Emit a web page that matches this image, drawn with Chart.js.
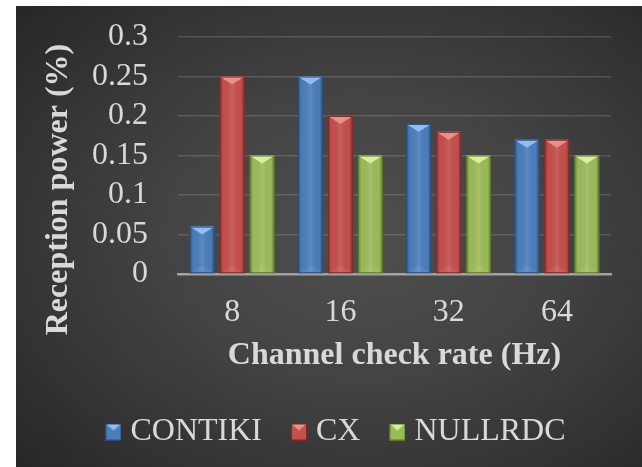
<!DOCTYPE html>
<html>
<head>
<meta charset="utf-8">
<script src="https://cdn.jsdelivr.net/npm/chart.js@4.4.0/dist/chart.umd.min.js"></script>
<style>
  html, body { margin: 0; padding: 0; background: #fff; overflow: hidden; }
  #panel {
    position: absolute; left: 16px; top: 6px; width: 626px; height: 461px;
    background: radial-gradient(ellipse 75% 75% at 55% 50%, #4e4e4e 0%, #444 40%, #333 75%, #262626 100%);
  }
</style>
</head>
<body>
<div id="panel"><canvas id="grafico" width="626" height="461"></canvas></div>
<script>
const categorias = ['8', '16', '32', '64'];
const contiki = [0.06, 0.25, 0.19, 0.17];
const cx = [0.25, 0.20, 0.18, 0.17];
const nullrdc = [0.15, 0.15, 0.15, 0.15];
const yTicks = ['0', '0.05', '0.1', '0.15', '0.2', '0.25', '0.3'];
const tituloX = 'Channel check rate (Hz)';
const tituloY = 'Reception power (%)';

const colorTexto = '#d9d9d9';
const fuente = '"Liberation Serif", "Times New Roman", serif';

// cuadrito de la leyenda con el mismo bisel que las barras
function muestra(base, luz, sombra) {
    const c = document.createElement('canvas');
    c.width = 16; c.height = 17;
    const g = c.getContext('2d');
    g.fillStyle = base; g.fillRect(0, 0, 16, 17);
    g.fillStyle = luz;
    g.beginPath(); g.moveTo(0, 0); g.lineTo(16, 0); g.lineTo(8, 7); g.closePath(); g.fill();
    g.strokeStyle = sombra; g.lineWidth = 1; g.strokeRect(0.5, 0.5, 15, 16);
    return c;
}

// bisel tipo Excel encima de cada barra
const bisel = {
    id: 'bisel',
    afterDatasetsDraw(chart) {
        const ctx = chart.ctx;
        chart.data.datasets.forEach((ds, i) => {
            chart.getDatasetMeta(i).data.forEach(bar => {
                const { x, y, width, base } = bar.getProps(['x', 'y', 'width', 'base'], true);
                const l = x - width / 2, r = x + width / 2, h = base - y;
                const g = ctx.createLinearGradient(l, 0, r, 0);
                g.addColorStop(0, 'rgba(0,0,0,0.30)');
                g.addColorStop(0.15, 'rgba(0,0,0,0)');
                g.addColorStop(0.5, 'rgba(255,255,255,0.10)');
                g.addColorStop(0.85, 'rgba(0,0,0,0)');
                g.addColorStop(1, 'rgba(0,0,0,0.32)');
                ctx.save();
                ctx.fillStyle = g;
                ctx.fillRect(l, y, width, h);
                const d = Math.min(width * 0.32, h / 2);
                ctx.beginPath(); ctx.moveTo(l, y); ctx.lineTo(r, y); ctx.lineTo(x, y + d); ctx.closePath();
                ctx.fillStyle = ds.luz; ctx.fill();
                ctx.beginPath(); ctx.moveTo(l, base); ctx.lineTo(r, base); ctx.lineTo(x, base - d); ctx.closePath();
                ctx.fillStyle = 'rgba(255,255,255,0.07)'; ctx.fill();
                ctx.strokeStyle = ds.sombra; ctx.lineWidth = 1;
                ctx.strokeRect(l + 0.5, y + 0.5, width - 1, h - 1);
                ctx.restore();
            });
        });
    }
};

// titulo del eje Y (en el original no esta centrado con el eje)
const ejeY = {
    id: 'ejeY',
    afterDraw(chart) {
        const ctx = chart.ctx, a = chart.chartArea;
        ctx.save();
        ctx.translate(a.left - 119, (a.top + a.bottom) / 2 + 34);
        ctx.rotate(-Math.PI / 2);
        ctx.font = 'bold 32px ' + fuente;
        ctx.fillStyle = colorTexto;
        ctx.textAlign = 'center';
        ctx.textBaseline = 'middle';
        ctx.fillText(tituloY, 0, 0);
        ctx.restore();
    }
};

function mostrarGrafico(id) {
    const ctx = document.getElementById(id);
    Chart.defaults.font.family = fuente;
    Chart.defaults.font.size = 32;
    Chart.defaults.color = colorTexto;

    const series = [
        { label: 'CONTIKI', data: contiki, backgroundColor: '#4a7ebb', luz: '#94bdee', sombra: '#2b4c78' },
        { label: 'CX', data: cx, backgroundColor: '#c44f4c', luz: '#e8908e', sombra: '#7a2a28' },
        { label: 'NULLRDC', data: nullrdc, backgroundColor: '#9bbb59', luz: '#d8ef9c', sombra: '#5c7629' }
    ];
    const muestras = series.map(s => muestra(s.backgroundColor, s.luz, s.sombra));

    const data = {
        labels: categorias,
        datasets: series.map(s => Object.assign({ yAxisID: 'y', borderWidth: 0 }, s))
    };
    const config = {
        type: 'bar',
        data: data,
        plugins: [bisel, ejeY],
        options: {
            responsive: false,
            animation: false,
            devicePixelRatio: 1,
            categoryPercentage: 0.83,
            barPercentage: 0.83,
            layout: { padding: { left: 20, right: 0, top: 31, bottom: 9 } },
            plugins: {
                tooltip: { enabled: false },
                legend: {
                    position: 'bottom',
                    labels: {
                        usePointStyle: true,
                        pointStyleWidth: 2,
                        padding: 36,
                        color: colorTexto,
                        font: { size: 32, family: fuente },
                        generateLabels(chart) {
                            return chart.data.datasets.map((ds, i) => ({
                                text: ds.label,
                                fillStyle: ds.backgroundColor,
                                strokeStyle: ds.sombra,
                                lineWidth: 0,
                                pointStyle: muestras[i],
                                fontColor: colorTexto,
                                hidden: false,
                                datasetIndex: i
                            }));
                        }
                    }
                }
            },
            scales: {
                x: {
                    z: 1,
                    grid: { display: false, drawTicks: false },
                    border: { display: true, color: '#a3a3a3', width: 2.5 },
                    ticks: { padding: 19, color: colorTexto, font: { size: 32 } },
                    title: {
                        display: true,
                        text: tituloX,
                        color: colorTexto,
                        font: { size: 32, weight: 'bold' },
                        padding: { top: 0, bottom: 5 }
                    },
                    afterFit(scale) { scale.height = 106; }
                },
                y: {
                    min: 0,
                    max: 0.3,
                    ticks: {
                        stepSize: 0.05,
                        autoSkip: false,
                        padding: 0,
                        color: colorTexto,
                        font: { size: 32, lineHeight: 1 },
                        callback: (v, i) => yTicks[i]
                    },
                    grid: {
                        color: 'rgba(255,255,255,0.14)',
                        lineWidth: 1.5,
                        drawTicks: true,
                        tickLength: 30,
                        tickColor: 'rgba(0,0,0,0)'
                    },
                    border: { display: false },
                    afterFit(scale) { scale.width = 142; }
                },
                yR: {
                    position: 'right',
                    grid: { display: false, drawTicks: false },
                    border: { display: false },
                    ticks: { display: false },
                    afterFit(scale) { scale.width = 31; }
                }
            }
        }
    };
    const myChart = new Chart(ctx, config);
}

mostrarGrafico('grafico');
</script>
</body>
</html>
